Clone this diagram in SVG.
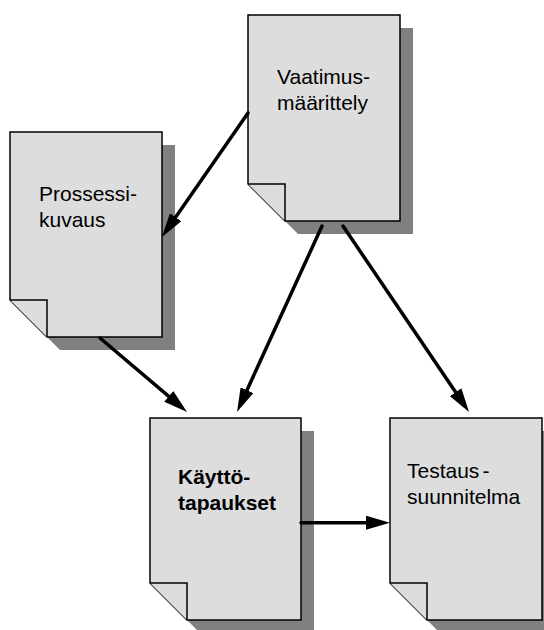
<svg xmlns="http://www.w3.org/2000/svg" width="544" height="630" viewBox="0 0 544 630">
<style>
.doc{fill:#dddddd;stroke:#000;stroke-width:1.5;stroke-linejoin:miter}
.shadow{fill:#808080;stroke:none}
.lbl{font-family:"Liberation Sans",Arial,sans-serif;font-size:21px;fill:#000}
.bold{font-weight:bold}
.conn{stroke:#000;stroke-width:3.5;fill:none;stroke-linecap:round}
</style>
<defs>
<marker id="ah" viewBox="0 0 24 14" refX="12" refY="7" markerWidth="24" markerHeight="14" markerUnits="userSpaceOnUse" orient="auto">
<path d="M0,0 L24,7 L0,14 Z" fill="#000"/>
</marker>
</defs>
<g id="vaatimus">
<path class="shadow" d="M298,234 L261,197 L261,28 L413,28 L413,234 Z"/>
<path class="doc" d="M285,221 L248,184 L248,15 L400,15 L400,221 Z"/>
<path class="doc" d="M248,184 L285,184 L285,221"/>
<text class="lbl" x="277" y="84">Vaatimus-</text>
<text class="lbl" x="277" y="110">määrittely</text>
</g>
<g id="prossessi">
<path class="shadow" d="M60,350 L23,313 L23,145 L175,145 L175,350 Z"/>
<path class="doc" d="M47,337 L10,300 L10,132 L162,132 L162,337 Z"/>
<path class="doc" d="M10,300 L47,300 L47,337"/>
<text class="lbl" x="39" y="201">Prossessi-</text>
<text class="lbl" x="39" y="227">kuvaus</text>
</g>
<g id="kayttotapaukset">
<path class="shadow" d="M200,633 L163,596 L163,431 L314,431 L314,633 Z"/>
<path class="doc" d="M187,620 L150,583 L150,418 L301,418 L301,620 Z"/>
<path class="doc" d="M150,583 L187,583 L187,620"/>
<text class="lbl bold" x="178" y="484">Käyttö-</text>
<text class="lbl bold" x="178" y="510">tapaukset</text>
</g>
<g id="testaussuunnitelma">
<path class="shadow" d="M440,633 L403,596 L403,431 L555,431 L555,633 Z"/>
<path class="doc" d="M427,620 L390,583 L390,418 L542,418 L542,620 Z"/>
<path class="doc" d="M390,583 L427,583 L427,620"/>
<text class="lbl" x="407" y="478">Testaus<tspan dx="3">-</tspan></text>
<text class="lbl" x="407" y="504">suunnitelma</text>
</g>
<g id="connectors">
<line class="conn" x1="248" y1="113" x2="168.8" y2="227.1" marker-end="url(#ah)"/>
<line class="conn" x1="100" y1="338" x2="177.9" y2="404.2" marker-end="url(#ah)"/>
<line class="conn" x1="322" y1="226" x2="242" y2="401.1" marker-end="url(#ah)"/>
<line class="conn" x1="343" y1="226" x2="462.3" y2="402.1" marker-end="url(#ah)"/>
<line class="conn" x1="301" y1="522.7" x2="378" y2="522.7" marker-end="url(#ah)"/>
</g>
</svg>
